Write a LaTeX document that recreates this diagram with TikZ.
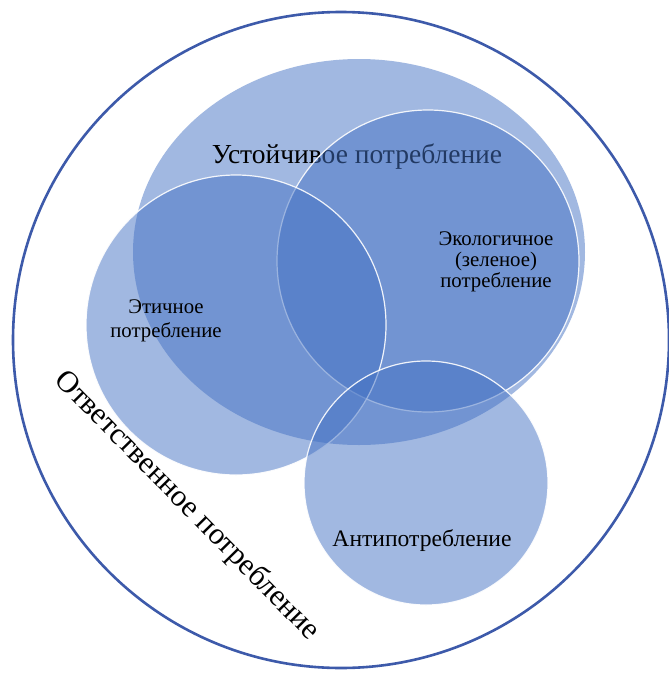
\documentclass[tikz,border=0pt]{standalone}
\usepackage{fontspec}
\setmainfont{Liberation Serif}
\definecolor{outerblue}{RGB}{61,90,170}
\definecolor{setblue}{RGB}{68,114,196}
\begin{document}
\begin{tikzpicture}[x=1pt,y=-1pt,
  setfill/.style={fill=setblue,fill opacity=0.5,draw=white,line width=1.2pt,draw opacity=0.9},
  lbl/.style={text=black,align=center,inner sep=0pt}]
\useasboundingbox (0,0) rectangle (669,673);
\fill[white] (0,0) rectangle (669,673);
\draw[outerblue,line width=2.6pt] (341,340) circle[radius=328];
% sustainable consumption ellipse
\path[setfill,draw=none] (359,252) ellipse[x radius=226,y radius=193];
\node[lbl,font=\fontsize{27.5}{30}\selectfont] (sust) at (357,157) {Устойчивое потребление};
% ecological
\path[setfill] (428,261) circle[radius=151];
% ethical
\path[setfill] (236,325) circle[radius=150];
% anti
\path[setfill] (426,483) circle[radius=122];
\node[lbl,font=\fontsize{20.8}{21}\selectfont] (eco) at (496,262) {Экологичное\\(зеленое)\\потребление};
\node[lbl,font=\fontsize{20.8}{24}\selectfont] (eth) at (166,321) {Этичное\\потребление};
\node[lbl,font=\fontsize{23.6}{26}\selectfont] (anti) at (422,541) {Антипотребление};
\node[lbl,font=\fontsize{30.5}{34}\selectfont,rotate=-45.5] (resp) at (187,506) {Ответственное потребление};
\end{tikzpicture}
\end{document}
